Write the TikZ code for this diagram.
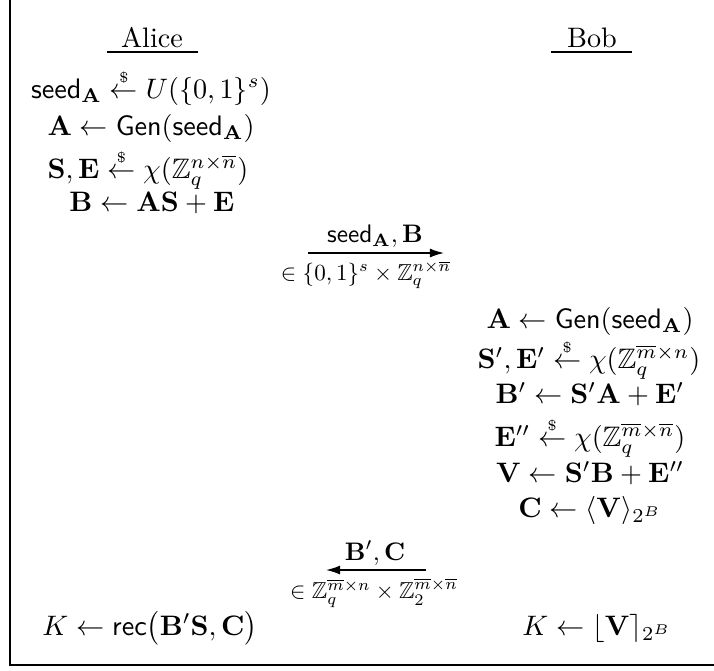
\documentclass[tikz,border=0pt]{standalone}
\usepackage{amsmath,amssymb}
\usetikzlibrary{arrows.meta}
\newcommand{\sampl}{\mathrel{\overset{\scriptscriptstyle\$}{\leftarrow}}}
\newcommand{\sd}{\mathsf{seed}_{\mathbf{A}}}
\begin{document}
\begin{tikzpicture}[x=0.355pt,y=-0.355pt,
  txt/.style={inner sep=0pt,anchor=center},
  toplab/.style={txt,scale=0.9},
  botlab/.style={txt,scale=0.82},
  rule/.style={line width=0.5pt},
  msg/.style={line width=0.5pt,-{Latex[length=5pt,width=3.2pt]}}]
\useasboundingbox (0,0) rectangle (714,670);
\draw[line width=0.8pt] (10,0) -- (10,665) -- (714,665);
% headers
\node[txt] (alice) at (152,38) {Alice};
\node[txt] (bob) at (592,38) {Bob};
\coordinate (al1) at (107,52); \coordinate (al2) at (198,52);
\coordinate (bl1) at (551,52); \coordinate (bl2) at (632,52);
\draw[rule] (al1) -- (al2);
\draw[rule] (bl1) -- (bl2);
% Alice
\node[txt] (a1) at (151,87) {$\sd \sampl U(\{0,1\}^s)$};
\node[txt] (a2) at (151,128) {$\mathbf{A}\leftarrow \mathsf{Gen}(\sd)$};
\node[txt] (a3) at (148,169) {$\mathbf{S},\mathbf{E} \sampl \chi(\mathbb{Z}_q^{n\times\overline{n}})$};
\node[txt] (a4) at (152,203) {$\mathbf{B}\leftarrow \mathbf{A}\mathbf{S}+\mathbf{E}$};
% message 1
\coordinate (m1s) at (308,253); \coordinate (m1e) at (444,253);
\draw[msg] (m1s) -- (m1e);
\node[toplab] (m1t) at (375,236) {$\sd,\mathbf{B}$};
\node[botlab] (m1b) at (366,275) {$\in\{0,1\}^s\times\mathbb{Z}_q^{n\times\overline{n}}$};
% Bob
\node[txt] (b1) at (590,321) {$\mathbf{A}\leftarrow \mathsf{Gen}(\sd)$};
\node[txt] (b2) at (589,359) {$\mathbf{S}',\mathbf{E}' \sampl \chi(\mathbb{Z}_q^{\overline{m}\times n})$};
\node[txt] (b3) at (590,394) {$\mathbf{B}'\leftarrow \mathbf{S}'\mathbf{A}+\mathbf{E}'$};
\node[txt] (b4) at (590,437) {$\mathbf{E}'' \sampl \chi(\mathbb{Z}_q^{\overline{m}\times\overline{n}})$};
\node[txt] (b5) at (590,473) {$\mathbf{V}\leftarrow \mathbf{S}'\mathbf{B}+\mathbf{E}''$};
\node[txt] (b6) at (590,510) {$\mathbf{C}\leftarrow \langle\mathbf{V}\rangle_{2^B}$};
% message 2
\coordinate (m2s) at (426,570); \coordinate (m2e) at (326,570);
\draw[msg] (m2s) -- (m2e);
\node[toplab] (m2t) at (375,553) {$\mathbf{B}',\mathbf{C}$};
\node[botlab] (m2b) at (374,593) {$\in\mathbb{Z}_q^{\overline{m}\times n}\times\mathbb{Z}_2^{\overline{m}\times\overline{n}}$};
% final
\node[txt] (af) at (150,628) {$K\leftarrow \mathsf{rec}\big(\mathbf{B}'\mathbf{S},\mathbf{C}\big)$};
\node[txt] (bf) at (597,628) {$K\leftarrow \lfloor\mathbf{V}\rceil_{2^B}$};
\end{tikzpicture}
\end{document}
